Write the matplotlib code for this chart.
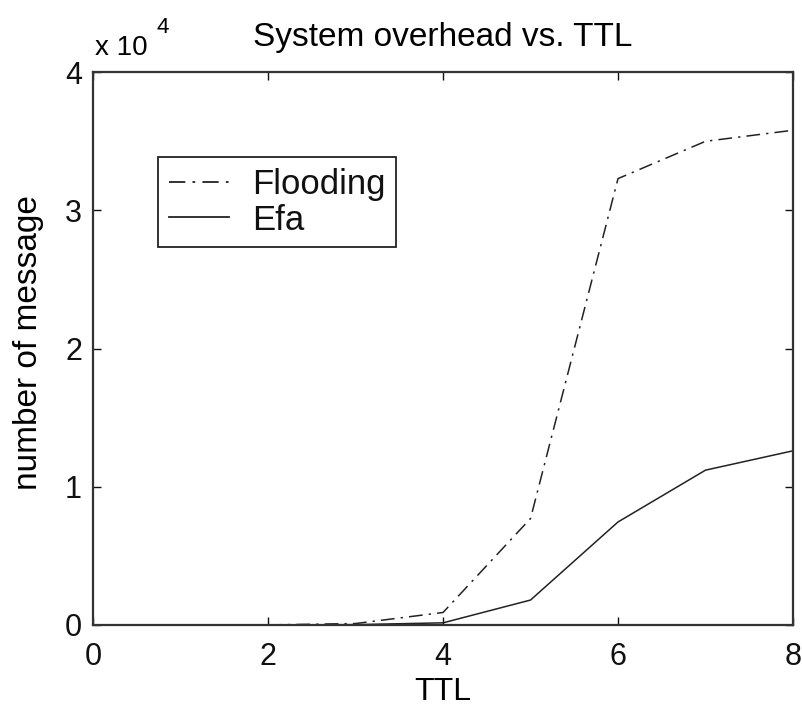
import matplotlib
matplotlib.use("Agg")
import matplotlib.pyplot as plt
from matplotlib.ticker import FuncFormatter

plt.rcParams['font.family'] = ['Liberation Sans', 'DejaVu Sans']

ttl = [2, 3, 4, 5, 6, 7, 8]
flooding = [0, 100, 900, 7700, 32300, 35000, 35800]
efa = [0, 20, 150, 1800, 7450, 11200, 12600]

title = "System overhead vs. TTL"
xlabel = "TTL"
ylabel = "number of message"
series_names = ["Flooding", "Efa"]
xticks = [0, 2, 4, 6, 8]
yticks = [0, 10000, 20000, 30000, 40000]

fig = plt.figure(figsize=(8.03, 7.15), dpi=100)
ax = fig.add_axes([0.116, 0.126, 0.8715, 0.773])

ax.plot(ttl, flooding, color='#222222', lw=1.1, linestyle=(0, (9, 4, 1.5, 4)),
        label=series_names[0], zorder=1)
ax.plot(ttl, efa, color='#222222', lw=1.1, linestyle='-', label=series_names[1], zorder=1)

ax.set_xlim(0, 8)
ax.set_ylim(0, 40000)
ax.set_xticks(xticks)
ax.set_yticks(yticks)
ax.yaxis.set_major_formatter(FuncFormatter(lambda v, p: f"{v/1e4:g}"))
ax.tick_params(direction='in', length=6, width=1, top=True, right=True,
               labelsize=22, colors='#111111')
ax.tick_params(axis='x', pad=12)
ax.tick_params(axis='y', pad=8)
for s in ax.spines.values():
    s.set_linewidth(1.6)
    s.set_color('#333333')
    s.set_zorder(5)

ax.set_title(title, fontsize=24, pad=19)
ax.set_xlabel(xlabel, fontsize=23, labelpad=4)
ax.set_ylabel(ylabel, fontsize=24)
ax.yaxis.set_label_coords(-0.07, 0.51)

fig.text(95/803, 1 - 55/715, "x 10", fontsize=20, ha='left', va='baseline')
fig.text(157/803, 1 - 33/715, "4", fontsize=16, ha='left', va='baseline')

leg = ax.legend(loc='upper left', bbox_to_anchor=(0.093, 0.846), borderaxespad=0,
                fontsize=25, fancybox=False, framealpha=1, edgecolor='#222222',
                handlelength=1.75, handletextpad=0.65, labelspacing=0.08,
                borderpad=0.3)
leg.get_frame().set_linewidth(1.3)
for t in leg.get_texts():
    t.set_color('#111111')
for h in leg.get_lines():
    h.set_linewidth(1.3)

fig.savefig("out.png", dpi=100, facecolor='white')
